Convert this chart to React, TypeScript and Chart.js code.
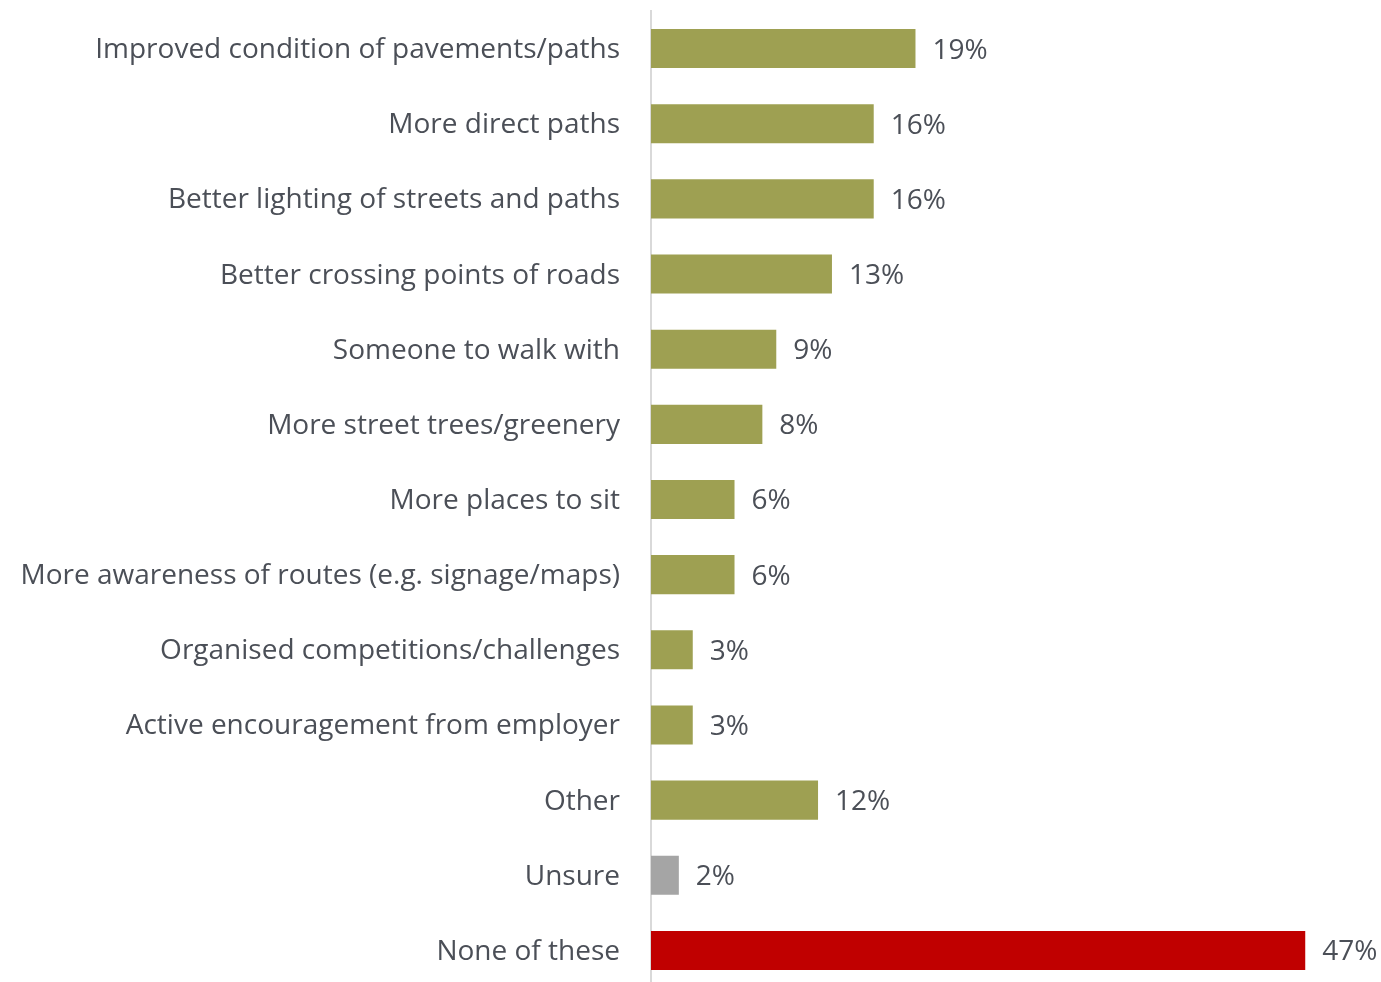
import React, { useEffect, useRef } from "react";
import { Chart, registerables } from "chart.js";

Chart.register(...registerables);

const categories = [
  "Improved condition of pavements/paths",
  "More direct paths",
  "Better lighting of streets and paths",
  "Better crossing points of roads",
  "Someone to walk with",
  "More street trees/greenery",
  "More places to sit",
  "More awareness of routes (e.g. signage/maps)",
  "Organised competitions/challenges",
  "Active encouragement from employer",
  "Other",
  "Unsure",
  "None of these",
];

const values = [19, 16, 16, 13, 9, 8, 6, 6, 3, 3, 12, 2, 47];

const OLIVE = "#9EA052";
const GREY = "#A5A5A5";
const RED = "#C00000";
const barColors = categories.map((c) =>
  c === "Unsure" ? GREY : c === "None of these" ? RED : OLIVE
);

const TEXT = "#4B4F57";
const FONT = "'Open Sans', sans-serif";

// Writes "NN%" just past the end of every bar
const valueLabels = {
  id: "valueLabels",
  afterDatasetsDraw(chart: Chart) {
    const { ctx } = chart;
    const meta = chart.getDatasetMeta(0);
    ctx.save();
    ctx.font = `28px ${FONT}`;
    ctx.fillStyle = TEXT;
    ctx.textAlign = "left";
    ctx.textBaseline = "middle";
    meta.data.forEach((el: any, i: number) => {
      ctx.fillText(`${values[i]}%`, el.x + 17, el.y + 2);
    });
    ctx.restore();
  },
};

export default function App() {
  const ref = useRef<HTMLCanvasElement>(null);

  useEffect(() => {
    if (!ref.current) return;
    const chart = new Chart(ref.current, {
      type: "bar",
      data: {
        labels: categories,
        datasets: [
          {
            data: values,
            backgroundColor: barColors,
            categoryPercentage: 1,
            barPercentage: 0.52,
          },
        ],
      },
      options: {
        indexAxis: "y",
        animation: false,
        responsive: false,
        maintainAspectRatio: false,
        layout: { padding: { top: 11, bottom: 2, left: 0, right: 34 } },
        plugins: {
          legend: { display: false },
          tooltip: { enabled: false },
        },
        scales: {
          x: {
            min: 0,
            max: 50,
            display: false,
          },
          y: {
            grid: { display: false, drawTicks: false },
            border: { display: true, color: "#D9D9D9", width: 2 },
            ticks: {
              color: TEXT,
              padding: 31,
              labelOffset: 1.5,
              font: { family: FONT, size: 28 },
            },
            afterFit(scale: any) {
              scale.width = 651;
              scale.paddingTop = 0;
              scale.paddingBottom = 0;
            },
          },
        },
      },
      plugins: [valueLabels],
    });
    return () => chart.destroy();
  }, []);

  return (
    <div
      style={{
        position: "fixed",
        left: 0,
        top: 0,
        width: 1381,
        height: 982,
        overflow: "hidden",
        background: "#fff",
      }}
    >
      <canvas ref={ref} width={1381} height={990} style={{ display: "block" }} />
    </div>
  );
}
